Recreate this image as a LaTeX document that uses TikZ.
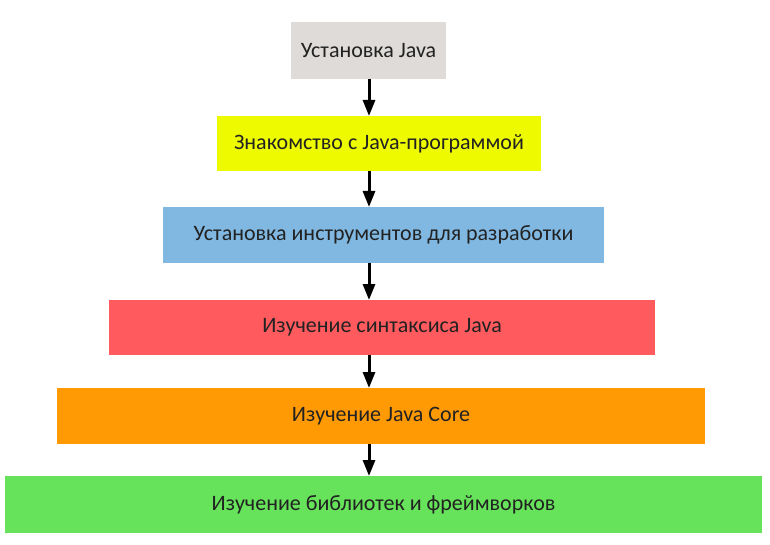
\documentclass[tikz,border=0pt]{standalone}
\usepackage{fontspec}
\setmainfont{Carlito}
\usetikzlibrary{arrows.meta}
\definecolor{cgrey}{HTML}{DEDBD8}
\definecolor{cyellow}{HTML}{EEFA00}
\definecolor{cblue}{HTML}{80B8E2}
\definecolor{cred}{HTML}{FF5A5E}
\definecolor{corange}{HTML}{FF9A05}
\definecolor{cgreen}{HTML}{66E35A}
\definecolor{ctext}{HTML}{222222}
\tikzset{
  stage/.style={fill=#1, draw=none, text=ctext, font=\fontsize{22}{26}\selectfont},
  flow/.style={line width=3pt, -{Triangle[length=16pt,width=12pt]}}
}
\begin{document}
\begin{tikzpicture}[x=1pt,y=-1pt]
\useasboundingbox[fill=white] (0,0) rectangle (770,545);
\coordinate (ax) at (369,0);
\newcommand{\stagebox}[7]{%
  \fill[#6] (#2,#3) rectangle (#4,#5);
  \node[stage=#6, fill=none, inner sep=0pt] (#1) at ({(#2+#4)/2},{(#3+#5)/2}) {#7};
  \coordinate (#1t) at (369,#3);
  \coordinate (#1b) at (369,#5);
}
\stagebox{s1}{291}{22}{446}{79}{cgrey}{Установка Java}
\stagebox{s2}{217}{116}{541}{171}{cyellow}{Знакомство с Java-программой}
\stagebox{s3}{163}{207}{604}{263}{cblue}{Установка инструментов для разработки}
\stagebox{s4}{109}{300}{655}{355}{cred}{Изучение синтаксиса Java}
\stagebox{s5}{57}{388}{705}{444}{corange}{Изучение Java Core}
\stagebox{s6}{5}{476}{762}{533}{cgreen}{Изучение библиотек и фреймворков}
\draw[flow] (s1b) -- (s2t);
\draw[flow] (s2b) -- (s3t);
\draw[flow] (s3b) -- (s4t);
\draw[flow] (s4b) -- (s5t);
\draw[flow] (s5b) -- (s6t);
\end{tikzpicture}
\end{document}
